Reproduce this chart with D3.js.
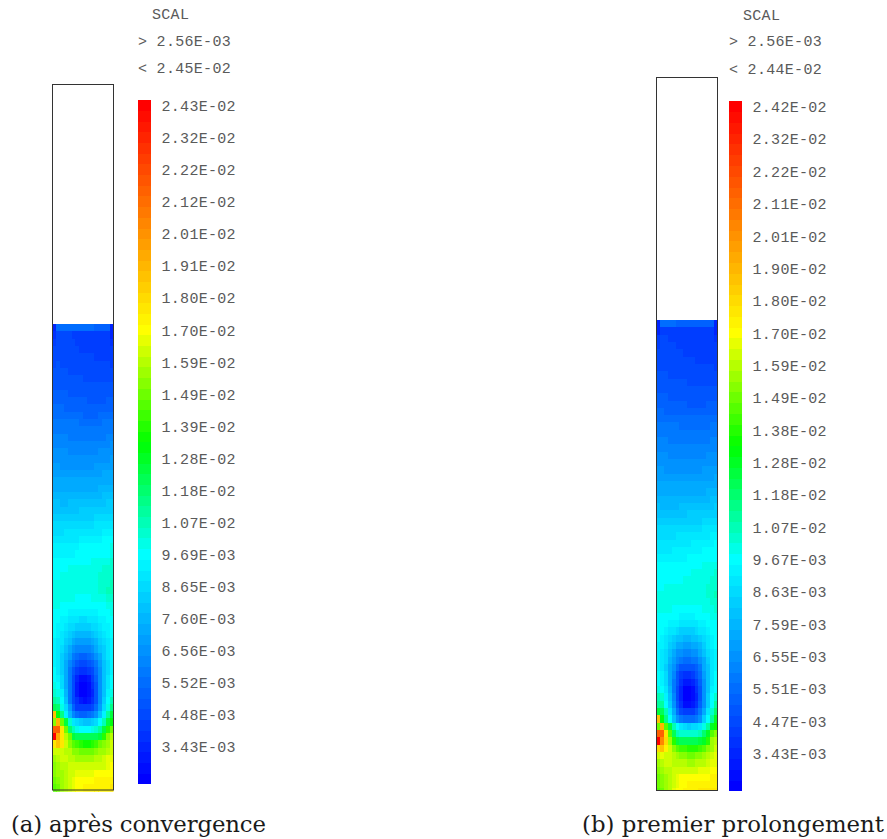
<!DOCTYPE html>
<html><head><meta charset="utf-8">
<script src="https://cdn.jsdelivr.net/npm/d3@7"></script>
<style>html,body{margin:0;padding:0;background:#fff}svg{display:block}
.m{font-family:"Liberation Mono",monospace;font-size:15px;letter-spacing:0.3px;fill:#5a5a5a}
.c{font-family:"DejaVu Serif",serif;font-size:22.8px;fill:#1a1a1a}</style></head><body>
<svg id="s" width="887" height="839"></svg>
<script>
const captions = ["(a) après convergence", "(b) premier prolongement"];
const scaleMin = 2.56, scaleMax = 24.5;
const headerA = ["SCAL", "> 2.56E-03", "< 2.45E-02"];
const headerB = ["SCAL", "> 2.56E-03", "< 2.44E-02"];
const ticksA = ["2.43E-02","2.32E-02","2.22E-02","2.12E-02","2.01E-02","1.91E-02","1.80E-02","1.70E-02","1.59E-02","1.49E-02","1.39E-02","1.28E-02","1.18E-02","1.07E-02","9.69E-03","8.65E-03","7.60E-03","6.56E-03","5.52E-03","4.48E-03","3.43E-03"];
const ticksB = ["2.42E-02","2.32E-02","2.22E-02","2.11E-02","2.01E-02","1.90E-02","1.80E-02","1.70E-02","1.59E-02","1.49E-02","1.38E-02","1.28E-02","1.18E-02","1.07E-02","9.67E-03","8.63E-03","7.59E-03","6.55E-03","5.51E-03","4.47E-03","3.43E-03"];
// values in units of 1E-03, top row first, 16 columns
const fieldA = [
[3.7,5.7,5.7,5.7,5.7,5.7,5.7,5.7,5.7,5.7,5.7,5.6,5.6,5.6,5.6,3.7],
[4.2,4.7,4.7,4.7,4.7,4.6,4.6,4.6,4.5,4.5,4.5,4.5,4.5,4.5,4.5,3.8],
[4.6,4.7,4.7,4.7,4.7,4.7,4.6,4.6,4.5,4.5,4.5,4.5,4.5,4.5,4.5,4.2],
[4.7,4.8,4.8,4.7,4.7,4.7,4.7,4.6,4.6,4.6,4.6,4.6,4.6,4.6,4.6,4.4],
[4.8,4.9,4.8,4.8,4.8,4.8,4.7,4.7,4.7,4.7,4.7,4.6,4.6,4.6,4.6,4.5],
[4.9,5.0,4.9,4.9,4.9,4.8,4.8,4.8,4.8,4.7,4.7,4.7,4.7,4.7,4.7,4.6],
[5.0,5.0,5.0,5.0,4.9,4.9,4.9,4.9,4.8,4.8,4.8,4.8,4.8,4.8,4.8,4.7],
[5.1,5.1,5.1,5.1,5.1,5.0,5.0,5.0,4.9,4.9,4.9,4.9,4.9,4.9,4.9,4.9],
[5.3,5.3,5.3,5.2,5.2,5.2,5.1,5.1,5.1,5.1,5.0,5.0,5.0,5.0,5.0,5.1],
[5.4,5.4,5.4,5.4,5.3,5.3,5.3,5.2,5.2,5.2,5.2,5.2,5.2,5.2,5.3,5.3],
[5.6,5.6,5.5,5.5,5.5,5.4,5.4,5.4,5.4,5.3,5.3,5.3,5.3,5.3,5.4,5.4],
[5.7,5.7,5.7,5.6,5.6,5.6,5.5,5.5,5.5,5.5,5.5,5.5,5.5,5.5,5.6,5.6],
[5.8,5.8,5.8,5.8,5.7,5.7,5.7,5.7,5.6,5.6,5.6,5.6,5.7,5.7,5.7,5.8],
[6.1,6.1,6.0,6.0,6.0,6.0,6.0,5.9,5.9,5.9,5.9,5.9,5.9,6.0,6.0,6.1],
[6.3,6.3,6.2,6.2,6.2,6.1,6.1,6.1,6.1,6.0,6.0,6.0,6.1,6.1,6.2,6.3],
[6.4,6.4,6.4,6.4,6.3,6.3,6.3,6.2,6.2,6.2,6.2,6.3,6.3,6.3,6.4,6.5],
[6.6,6.6,6.5,6.5,6.5,6.5,6.4,6.4,6.4,6.4,6.4,6.4,6.5,6.5,6.6,6.7],
[6.8,6.7,6.7,6.7,6.6,6.6,6.6,6.6,6.6,6.6,6.6,6.6,6.7,6.7,6.8,6.9],
[6.9,6.9,6.9,6.8,6.8,6.8,6.8,6.8,6.8,6.8,6.8,6.8,6.9,6.9,7.0,7.1],
[7.1,7.1,7.0,7.0,7.0,7.0,7.0,7.0,7.0,7.0,7.0,7.1,7.1,7.2,7.2,7.3],
[7.3,7.3,7.2,7.2,7.2,7.2,7.2,7.2,7.2,7.2,7.2,7.3,7.3,7.4,7.4,7.5],
[7.5,7.5,7.4,7.4,7.4,7.4,7.4,7.4,7.4,7.4,7.5,7.5,7.6,7.6,7.7,7.7],
[7.7,7.7,7.6,7.6,7.6,7.6,7.6,7.6,7.6,7.7,7.7,7.7,7.8,7.8,7.9,8.0],
[7.9,7.9,7.8,7.8,7.8,7.8,7.8,7.9,7.9,7.9,7.9,8.0,8.0,8.1,8.1,8.2],
[8.1,8.1,8.0,8.0,8.1,8.1,8.1,8.1,8.1,8.2,8.2,8.2,8.3,8.3,8.4,8.5],
[8.3,8.3,8.3,8.3,8.3,8.3,8.3,8.4,8.4,8.4,8.5,8.5,8.6,8.6,8.7,8.7],
[8.5,8.5,8.5,8.5,8.5,8.6,8.6,8.6,8.7,8.7,8.7,8.8,8.8,8.9,8.9,9.0],
[8.8,8.8,8.8,8.8,8.8,8.8,8.9,8.9,8.9,9.0,9.0,9.1,9.1,9.2,9.2,9.3],
[9.0,9.0,9.0,9.1,9.1,9.1,9.1,9.2,9.2,9.3,9.3,9.4,9.4,9.5,9.5,9.6],
[9.3,9.3,9.3,9.3,9.4,9.4,9.4,9.5,9.5,9.6,9.6,9.7,9.7,9.8,9.8,9.9],
[9.5,9.6,9.6,9.6,9.6,9.7,9.7,9.8,9.8,9.8,9.9,9.9,10.0,10.0,10.1,10.2],
[9.6,9.6,9.6,9.7,9.7,9.7,9.8,9.8,9.9,9.9,9.9,10.0,10.0,10.1,10.1,10.2],
[9.8,9.9,9.9,9.9,10.0,10.0,10.0,10.1,10.1,10.1,10.2,10.2,10.2,10.3,10.4,10.5],
[10.0,10.1,10.1,10.1,10.2,10.2,10.2,10.2,10.3,10.3,10.3,10.4,10.4,10.5,10.6,10.7],
[10.1,10.1,10.2,10.2,10.2,10.2,10.3,10.3,10.3,10.3,10.4,10.4,10.5,10.5,10.6,10.7],
[10.2,10.3,10.3,10.3,10.3,10.3,10.3,10.3,10.3,10.3,10.4,10.4,10.5,10.6,10.7,10.8],
[10.3,10.3,10.3,10.3,10.3,10.3,10.3,10.3,10.3,10.3,10.4,10.4,10.5,10.6,10.8,10.9],
[10.3,10.3,10.3,10.3,10.2,10.2,10.1,10.1,10.1,10.1,10.2,10.2,10.3,10.4,10.6,10.7],
[10.2,10.2,10.1,10.0,9.9,9.9,9.9,9.8,9.8,9.8,9.9,9.9,10.0,10.1,10.2,10.4],
[10.1,10.0,9.9,9.8,9.7,9.6,9.5,9.5,9.5,9.5,9.6,9.7,9.8,9.9,10.1,10.2],
[10.0,9.8,9.7,9.5,9.4,9.2,9.1,9.0,9.0,9.1,9.2,9.4,9.5,9.7,9.9,10.0],
[9.9,9.7,9.5,9.3,9.0,8.8,8.6,8.5,8.5,8.6,8.8,9.0,9.3,9.5,9.7,9.9],
[9.8,9.5,9.3,9.0,8.6,8.3,8.0,7.9,7.9,8.0,8.2,8.6,8.9,9.3,9.6,9.8],
[9.7,9.4,9.1,8.6,8.1,7.6,7.3,7.2,7.2,7.3,7.6,8.0,8.5,9.0,9.4,9.7],
[9.6,9.3,8.9,8.3,7.6,7.0,6.6,6.4,6.4,6.6,7.0,7.4,8.1,8.7,9.2,9.6],
[9.6,9.3,8.7,7.9,7.1,6.3,5.8,5.6,5.6,5.8,6.2,6.9,7.7,8.4,9.1,9.5],
[9.6,9.3,8.6,7.7,6.6,5.7,5.1,4.8,4.8,5.0,5.5,6.3,7.3,8.2,9.0,9.5],
[9.8,9.4,8.7,7.6,6.3,5.2,4.5,4.0,4.0,4.3,4.9,5.9,7.0,8.1,9.0,9.6],
[9.9,9.6,8.8,7.6,6.1,4.9,3.9,3.2,3.1,3.5,4.3,5.4,6.8,8.1,9.2,9.8],
[10.2,9.9,9.0,7.7,6.0,4.7,3.5,2.8,2.7,3.1,4.0,5.2,6.7,8.1,9.4,10.0],
[10.7,10.4,9.5,7.9,6.1,4.7,3.5,2.9,2.7,3.0,3.9,5.1,6.7,8.3,9.7,10.4],
[11.3,11.0,9.8,8.2,6.3,4.9,4.0,3.3,3.1,3.4,4.2,5.3,6.9,8.7,10.0,11.1],
[12.5,12.0,10.3,9.0,7.2,5.4,4.6,4.3,4.3,4.5,4.9,5.7,7.3,9.0,10.4,11.8],
[19.0,13.2,11.5,9.6,8.0,6.6,5.8,5.6,5.6,5.7,6.0,6.7,8.2,9.6,11.2,12.8],
[15.5,19.2,15.0,12.8,10.7,9.4,8.8,8.4,8.3,8.3,8.5,9.0,9.9,10.9,12.7,13.2],
[21.5,21.5,17.8,15.0,12.0,11.0,10.3,10.0,9.9,9.9,10.2,10.6,11.4,12.8,14.2,15.0],
[24.4,19.6,17.8,16.0,15.0,12.8,12.5,12.3,12.3,12.3,12.4,12.5,12.8,14.2,15.5,16.0],
[17.8,19.0,17.7,16.4,15.4,14.8,14.3,14.0,13.8,13.8,14.0,14.4,15.0,15.4,15.9,16.4],
[16.4,16.6,16.6,16.2,16.0,15.5,15.3,15.1,15.0,15.0,15.1,15.3,15.6,15.9,16.2,16.6],
[15.9,16.2,16.3,16.3,16.1,16.0,15.9,15.8,15.8,15.8,15.9,16.0,16.2,16.4,16.7,16.9],
[15.5,15.8,16.0,16.2,16.3,16.4,16.4,16.4,16.3,16.3,16.4,16.4,16.5,16.5,16.8,17.0],
[15.3,15.6,15.9,16.2,16.4,16.6,16.8,16.9,16.9,16.9,16.9,17.0,17.0,17.1,17.2,17.3],
[15.0,15.4,15.8,16.1,16.5,16.8,17.0,17.1,17.2,17.3,17.3,17.4,17.4,17.4,17.5,17.5],
[14.8,15.2,15.7,16.1,16.5,16.9,17.1,17.3,17.4,17.5,17.5,17.5,17.6,17.6,17.6,17.7]
];
const fieldB = [
[3.7,5.7,5.7,5.7,5.7,5.6,5.6,5.6,5.6,5.6,5.6,5.5,5.5,5.5,5.5,3.7],
[3.8,4.6,4.6,4.6,4.6,4.6,4.6,4.6,4.6,4.6,4.6,4.6,4.6,4.6,4.6,3.7],
[4.5,4.7,4.7,4.6,4.6,4.6,4.6,4.6,4.5,4.5,4.5,4.5,4.5,4.5,4.4,4.2],
[4.6,4.7,4.7,4.7,4.7,4.6,4.6,4.6,4.6,4.6,4.5,4.5,4.5,4.5,4.5,4.3],
[4.7,4.8,4.8,4.7,4.7,4.7,4.7,4.6,4.6,4.6,4.6,4.6,4.6,4.6,4.5,4.4],
[4.8,4.9,4.8,4.8,4.8,4.8,4.7,4.7,4.7,4.7,4.6,4.6,4.6,4.6,4.6,4.5],
[4.9,4.9,4.9,4.9,4.8,4.8,4.8,4.8,4.7,4.7,4.7,4.7,4.7,4.7,4.7,4.6],
[5.0,5.0,5.0,4.9,4.9,4.9,4.9,4.8,4.8,4.8,4.8,4.8,4.8,4.8,4.8,4.8],
[5.1,5.1,5.1,5.1,5.0,5.0,5.0,5.0,4.9,4.9,4.9,4.9,4.9,4.9,4.9,4.9],
[5.3,5.3,5.2,5.2,5.2,5.1,5.1,5.1,5.1,5.0,5.0,5.0,5.0,5.0,5.1,5.1],
[5.4,5.4,5.4,5.3,5.3,5.3,5.2,5.2,5.2,5.2,5.2,5.2,5.2,5.2,5.2,5.3],
[5.6,5.5,5.5,5.5,5.4,5.4,5.4,5.4,5.3,5.3,5.3,5.3,5.3,5.4,5.4,5.5],
[5.7,5.7,5.6,5.6,5.6,5.6,5.5,5.5,5.5,5.5,5.5,5.5,5.5,5.5,5.6,5.6],
[5.9,5.9,5.9,5.9,5.8,5.8,5.8,5.8,5.7,5.7,5.7,5.7,5.7,5.8,5.8,5.9],
[6.1,6.1,6.0,6.0,6.0,6.0,5.9,5.9,5.9,5.9,5.9,5.9,5.9,5.9,6.0,6.1],
[6.3,6.2,6.2,6.2,6.1,6.1,6.1,6.1,6.0,6.0,6.0,6.0,6.1,6.1,6.2,6.2],
[6.4,6.4,6.4,6.3,6.3,6.3,6.2,6.2,6.2,6.2,6.2,6.2,6.3,6.3,6.4,6.4],
[6.6,6.5,6.5,6.5,6.5,6.4,6.4,6.4,6.4,6.4,6.4,6.4,6.4,6.5,6.5,6.6],
[6.7,6.7,6.7,6.6,6.6,6.6,6.6,6.6,6.6,6.6,6.6,6.6,6.6,6.7,6.7,6.8],
[6.9,6.9,6.8,6.8,6.8,6.8,6.8,6.8,6.8,6.8,6.8,6.8,6.8,6.9,6.9,7.0],
[7.1,7.1,7.0,7.0,7.0,7.0,7.0,7.0,7.0,7.0,7.0,7.0,7.1,7.1,7.1,7.2],
[7.3,7.2,7.2,7.2,7.2,7.2,7.2,7.2,7.2,7.2,7.2,7.2,7.3,7.3,7.3,7.4],
[7.5,7.4,7.4,7.4,7.4,7.4,7.4,7.4,7.4,7.4,7.4,7.5,7.5,7.5,7.6,7.7],
[7.7,7.6,7.6,7.6,7.6,7.6,7.6,7.6,7.6,7.6,7.7,7.7,7.7,7.8,7.8,7.9],
[7.9,7.8,7.8,7.8,7.8,7.8,7.8,7.8,7.9,7.9,7.9,7.9,8.0,8.0,8.1,8.1],
[8.1,8.0,8.0,8.0,8.0,8.0,8.1,8.1,8.1,8.1,8.2,8.2,8.2,8.3,8.3,8.4],
[8.3,8.3,8.3,8.3,8.3,8.3,8.3,8.3,8.4,8.4,8.4,8.5,8.5,8.6,8.6,8.7],
[8.5,8.5,8.5,8.5,8.5,8.5,8.6,8.6,8.6,8.7,8.7,8.7,8.8,8.8,8.9,8.9],
[8.8,8.8,8.8,8.8,8.8,8.8,8.8,8.9,8.9,8.9,9.0,9.0,9.1,9.1,9.2,9.2],
[9.0,9.0,9.0,9.0,9.0,9.1,9.1,9.1,9.2,9.2,9.3,9.3,9.3,9.4,9.5,9.5],
[9.3,9.3,9.3,9.3,9.3,9.3,9.4,9.4,9.4,9.5,9.5,9.6,9.6,9.7,9.7,9.8],
[9.4,9.4,9.4,9.4,9.5,9.5,9.5,9.6,9.6,9.7,9.7,9.7,9.8,9.8,9.9,10.0],
[9.5,9.6,9.6,9.6,9.6,9.7,9.7,9.7,9.8,9.8,9.9,9.9,9.9,10.0,10.1,10.1],
[9.8,9.8,9.8,9.9,9.9,9.9,10.0,10.0,10.0,10.1,10.1,10.1,10.2,10.2,10.3,10.4],
[9.9,9.9,10.0,10.0,10.0,10.1,10.1,10.1,10.1,10.2,10.2,10.2,10.3,10.3,10.4,10.5],
[10.0,10.0,10.0,10.1,10.1,10.1,10.1,10.2,10.2,10.2,10.2,10.3,10.3,10.4,10.5,10.5],
[10.1,10.1,10.2,10.2,10.2,10.2,10.2,10.3,10.3,10.3,10.3,10.3,10.4,10.5,10.6,10.7],
[10.2,10.2,10.3,10.3,10.3,10.3,10.3,10.3,10.3,10.3,10.3,10.3,10.4,10.5,10.7,10.8],
[10.3,10.3,10.3,10.3,10.3,10.2,10.2,10.2,10.2,10.2,10.2,10.3,10.3,10.4,10.6,10.7],
[10.2,10.2,10.2,10.2,10.1,10.1,10.0,10.0,10.0,10.0,10.0,10.1,10.2,10.3,10.4,10.5],
[10.1,10.1,10.0,10.0,9.9,9.8,9.7,9.7,9.7,9.7,9.8,9.9,10.0,10.1,10.2,10.3],
[10.0,9.9,9.8,9.7,9.6,9.5,9.4,9.3,9.3,9.3,9.4,9.5,9.7,9.8,10.0,10.1],
[9.9,9.8,9.6,9.4,9.1,8.9,8.7,8.7,8.7,8.7,8.9,9.1,9.4,9.6,9.8,10.0],
[9.8,9.6,9.4,9.0,8.6,8.3,8.1,8.0,8.0,8.1,8.3,8.6,9.0,9.4,9.7,9.9],
[9.7,9.5,9.1,8.6,8.1,7.7,7.4,7.3,7.3,7.4,7.7,8.0,8.6,9.1,9.5,9.8],
[9.6,9.4,8.9,8.3,7.6,7.0,6.7,6.5,6.5,6.7,7.0,7.5,8.1,8.8,9.3,9.6],
[9.6,9.3,8.8,8.0,7.1,6.4,6.0,5.8,5.8,6.0,6.3,6.9,7.7,8.5,9.2,9.6],
[9.7,9.4,8.7,7.7,6.7,5.8,5.2,5.0,5.0,5.1,5.6,6.3,7.4,8.3,9.1,9.6],
[9.8,9.5,8.8,7.6,6.4,5.3,4.6,4.2,4.1,4.4,5.0,5.9,7.1,8.2,9.2,9.8],
[10.0,9.7,8.9,7.7,6.2,5.0,4.0,3.4,3.3,3.6,4.4,5.5,6.9,8.2,9.3,9.9],
[10.3,10.0,9.2,7.8,6.2,4.8,3.6,2.9,2.8,3.1,4.0,5.2,6.7,8.2,9.5,10.1],
[10.8,10.5,9.6,8.1,6.4,4.9,3.6,2.9,2.7,3.0,3.9,5.2,6.8,8.4,9.8,10.5],
[11.4,11.2,10.0,8.5,6.8,5.2,4.0,3.2,3.0,3.3,4.2,5.4,7.0,8.7,10.1,11.2],
[12.6,12.3,10.8,9.4,7.6,5.9,4.9,4.4,4.4,4.6,5.1,6.0,7.6,9.2,10.7,12.0],
[19.0,13.2,11.6,10.0,8.2,6.8,6.0,5.8,5.8,5.9,6.2,7.0,8.4,9.9,11.4,12.9],
[15.2,19.2,14.8,12.8,10.8,9.8,9.1,8.8,8.7,8.8,9.0,9.4,10.2,11.4,13.0,13.6],
[21.6,21.6,17.8,14.8,12.4,11.0,10.6,10.7,10.7,10.7,10.7,11.0,12.0,13.0,14.8,15.4],
[24.4,20.6,18.0,15.8,14.0,12.8,12.4,12.3,12.3,12.3,12.4,12.6,13.0,14.2,15.6,16.1],
[18.0,19.0,17.6,16.4,15.4,14.9,14.5,14.3,14.1,14.1,14.2,14.5,14.9,15.4,15.9,16.3],
[16.6,16.7,16.6,16.3,16.0,15.7,15.5,15.3,15.2,15.2,15.3,15.5,15.7,16.0,16.4,16.7],
[15.8,16.1,16.3,16.3,16.2,16.1,16.0,16.0,15.9,15.9,16.0,16.0,16.2,16.4,16.7,16.9],
[15.4,15.8,16.0,16.2,16.4,16.5,16.6,16.6,16.6,16.6,16.6,16.7,16.8,16.9,17.0,17.1],
[15.2,15.5,15.9,16.2,16.5,16.8,17.0,17.1,17.1,17.1,17.1,17.1,17.2,17.3,17.4,17.4],
[15.0,15.4,15.8,16.1,16.6,16.9,17.1,17.3,17.4,17.4,17.4,17.5,17.5,17.5,17.6,17.6],
[14.8,15.2,15.7,16.1,16.7,17.0,17.2,17.4,17.5,17.6,17.6,17.7,17.7,17.7,17.8,17.8]
];

const levelRamp = d3.scaleLinear()
  .domain([0, 1/3, 1/2, 2/3, 1])
  .range(["#0000ff", "#00ffff", "#00ff00", "#ffff00", "#ff0000"]);
const levels = d3.range(64);
const levelColors = levels.map(i => levelRamp(i / 63));
const colour = d3.scaleQuantize().domain([scaleMin, scaleMax]).range(levelColors);

const svg = d3.select("#s");
const layouts = [
 {field: fieldA, ticks: ticksA, head: headerA, cap: captions[0], capX: 11, capW: 255, box: [52.5, 113.5, 84.5, 790], fieldY: [324, 791.5], clipB: 791.7, barX: [138, 151], barY: [100, 784], hx: [152, 138, 138], hy: [14, 41.5, 68.5]},
 {field: fieldB, ticks: ticksB, head: headerB, cap: captions[1], capX: 582, capW: 302, box: [656.5, 717.5, 77.5, 790.5], fieldY: [320, 795.8], clipB: 791, barX: [729, 742], barY: [101, 791], hx: [743, 729, 729], hy: [15, 41.5, 69]}
];
layouts.forEach((p, pi) => {
  const g = svg.append("g");
  const clipId = "clip" + pi;
  svg.append("clipPath").attr("id", clipId).append("rect")
    .attr("x", p.box[0]).attr("width", p.box[1] - p.box[0])
    .attr("y", p.fieldY[0]).attr("height", p.clipB - p.fieldY[0]);
  const x = d3.scaleBand().domain(d3.range(16)).range([p.box[0], p.box[1]]);
  const y = d3.scaleBand().domain(d3.range(p.field.length)).range(p.fieldY);
  const cells = p.field.flatMap((row, r) => row.map((v, c) => ({r, c, v})));
  g.append("g").attr("clip-path", `url(#${clipId})`).selectAll("rect").data(cells).join("rect")
    .attr("x", d => x(d.c)).attr("y", d => y(d.r))
    .attr("width", x.bandwidth() + 0.3).attr("height", y.bandwidth() + 0.3)
    .attr("fill", d => colour(d.v)).attr("shape-rendering", "crispEdges");
  g.append("rect").attr("x", p.box[0]).attr("y", p.box[2])
    .attr("width", p.box[1] - p.box[0]).attr("height", p.box[3] - p.box[2])
    .attr("fill", "none").attr("stroke", "#333").attr("stroke-width", 1);
  const yBar = d3.scaleBand().domain(levels.slice().reverse()).range(p.barY);
  g.append("g").selectAll("rect").data(levels).join("rect")
    .attr("x", p.barX[0]).attr("width", p.barX[1] - p.barX[0])
    .attr("y", d => yBar(d)).attr("height", yBar.bandwidth() + 0.3)
    .attr("fill", d => levelColors[d]).attr("shape-rendering", "crispEdges");
  g.append("g").selectAll("text").data(p.ticks).join("text").attr("class", "m")
    .attr("x", p.barX[1] + 10.5)
    .attr("y", (d, i) => yBar(63 - i * 3) + yBar.bandwidth() / 2 + 0.8)
    .attr("dy", "0.33em").text(d => d);
  g.append("g").selectAll("text").data(p.head).join("text").attr("class", "m")
    .attr("x", (d, i) => p.hx[i]).attr("y", (d, i) => p.hy[i])
    .attr("dy", "0.33em").text(d => d);
  g.append("text").attr("class", "c").attr("x", p.capX).attr("y", 832)
    .attr("textLength", p.capW).attr("lengthAdjust", "spacing").text(p.cap);
});
</script></body></html>
